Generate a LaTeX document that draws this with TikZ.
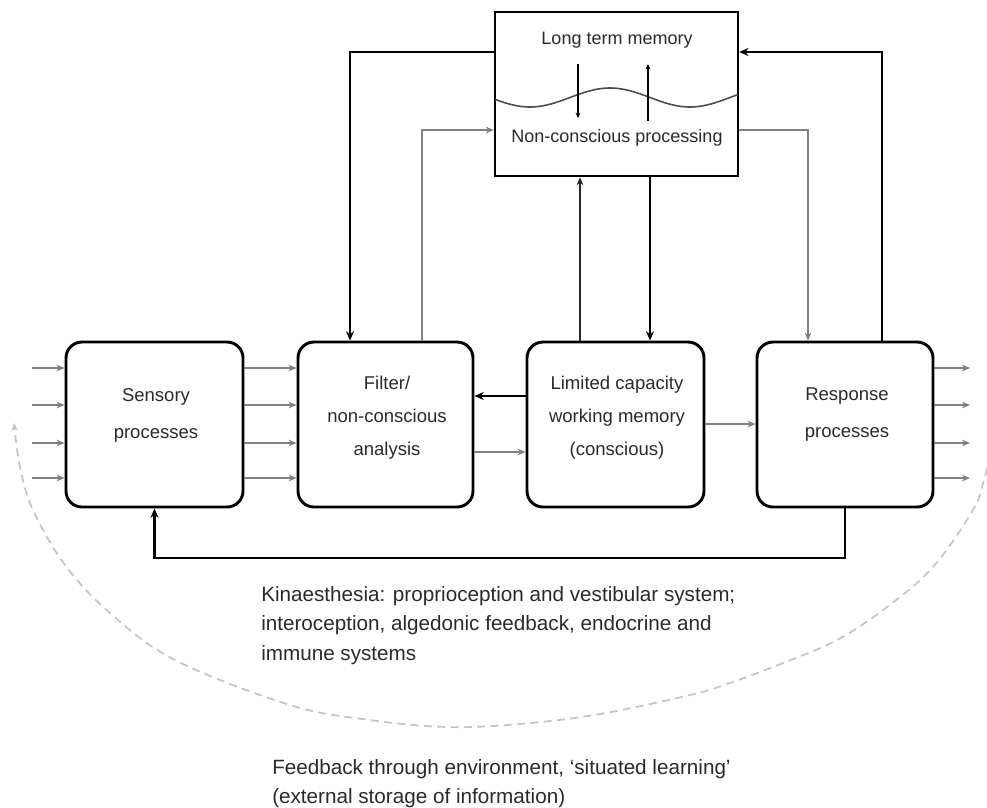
\documentclass[tikz,border=0pt]{standalone}
\usepackage{fontspec}
\setmainfont{Liberation Sans}
\usetikzlibrary{arrows.meta}
\definecolor{txt}{HTML}{2A2A2A}
\definecolor{gline}{HTML}{808080}
\definecolor{dline}{HTML}{C4C4C4}
\begin{document}
\begin{tikzpicture}[x=0.75pt,y=-0.75pt,
  box/.style={draw, line width=2.2pt, rounded corners=12pt, minimum height=123.75pt, inner sep=0pt},
  ltmbox/.style={draw, line width=1.8pt, minimum width=182.25pt, minimum height=123pt, inner sep=0pt},
  lab/.style={text=txt, align=center, inner sep=0pt},
  lab2/.style={lab, font=\fontsize{13.9pt}{27.75pt}\selectfont},
  lab3/.style={lab, font=\fontsize{13.9pt}{24.75pt}\selectfont},
  ltmlab/.style={text=txt, inner sep=0pt, anchor=base, font=\fontsize{13.5pt}{16pt}\selectfont},
  para/.style={text=txt, inner sep=0pt, anchor=base west, font=\fontsize{15.5pt}{20pt}\selectfont},
  bk/.style={draw=black, line width=2.2pt, -{Stealth[length=7pt,width=6pt]}},
  thinbk/.style={draw=black!85, line width=1.3pt, -{Stealth[length=6pt,width=5pt]}},
  gr/.style={draw=gline, line width=1.5pt, -{Stealth[length=6pt,width=5pt]}},
  tick/.style={draw=black, line width=1.2pt, -{Stealth[length=4pt,width=3.5pt]}},
  wave/.style={draw=black!70, line width=1.2pt},
  envfb/.style={draw=dline, line width=1.3pt, dash pattern=on 6pt off 4pt, -{Stealth[length=6pt,width=5pt]}}
]
\useasboundingbox (0,0) rectangle (987,807);

% boxes
\node[box, minimum width=132.75pt] (sens) at (154.5,424.5) {};
\node[box, minimum width=131.25pt] (filt) at (385.5,424.5) {};
\node[box, minimum width=132.75pt] (lim) at (615.5,424.5) {};
\node[box, minimum width=132pt] (resp) at (845,424.5) {};
\node[ltmbox] (ltm) at (616.5,94) {};

% box labels
\node[lab2] (sensl) at (156,415) {Sensory\\processes};
\node[lab3] (filtl) at (387,418) {Filter/\\non-conscious\\analysis};
\node[lab3] (liml) at (617,418) {Limited capacity\\working memory\\(conscious)};
\node[lab2] (respl) at (847,415) {Response\\processes};

% long term memory box contents
\node[ltmlab] (ltmt) at (617,44) {Long term memory};
\node[ltmlab] (ncp) at (617,142) {Non-conscious processing};
\draw[wave] plot[domain=495:738, samples=80] (\x, {97.5+9.5*cos(2.25*(\x-530))});
\coordinate (tk1a) at (578,64);
\coordinate (tk1b) at (578,118);
\coordinate (tk2a) at (648,121);
\coordinate (tk2b) at (648,64);
\draw[tick] (tk1a) -- (tk1b);
\draw[tick] (tk2a) -- (tk2b);

% helper levels
\coordinate (yT) at (0,52);
\coordinate (yG) at (0,130);
\coordinate (x350) at (350,0);
\coordinate (x422) at (422,0);
\coordinate (x580) at (580,0);
\coordinate (x650) at (650,0);
\coordinate (x808) at (808,0);
\coordinate (x882) at (882,0);
\coordinate (y396) at (0,396);
\coordinate (y452) at (0,452);
\coordinate (y424) at (0,424);
\coordinate (yB) at (0,558);

% connectors to/from long term memory
\draw[bk] (ltm.west |- yT) -| (filt.north -| x350);
\draw[gr] (filt.north -| x422) |- (ltm.west |- yG);
\draw[thinbk] (lim.north -| x580) -- (ltm.south -| x580);
\draw[bk] (ltm.south -| x650) -- (lim.north -| x650);
\draw[gr] (ltm.east |- yG) -| (resp.north -| x808);
\draw[bk] (resp.north -| x882) |- (ltm.east |- yT);

% connectors between boxes
\draw[bk] (lim.west |- y396) -- (filt.east |- y396);
\draw[gr] (filt.east |- y452) -- (lim.west |- y452);
\draw[gr] (lim.east |- y424) -- (resp.west |- y424);
\draw[bk] (resp.south) -- (resp.south |- yB) -| (sens.south);

% inputs, sensory -> filter, outputs
\foreach \yy [count=\i] in {368,405,443,478} {
  \coordinate (in\i) at (32,\yy);
  \coordinate (out\i) at (970,\yy);
  \draw[gr] (in\i) -- (sens.west |- in\i);
  \draw[gr] (sens.east |- in\i) -- (filt.west |- in\i);
  \draw[gr] (resp.east |- out\i) -- (out\i);
}

% environment feedback arc
\draw[envfb] plot[smooth, tension=0.6] coordinates {(990,455) (984,480) (973,510) (933,567) (887,607) (837,640) (783,663) (730,683) (690,695) (600,714) (520,724) (447,727) (370,720) (290,705) (175,660) (110,613) (65,565) (33,510) (20,467) (14,423)};

% texts
\node[para] (k1) at (261,601) {Kinaesthesia: proprioception and vestibular system;};
\node[para] (k2) at (261,630) {interoception, algedonic feedback, endocrine and};
\node[para] (k3) at (261,660) {immune systems};
\node[para] (f1) at (272,774) {Feedback through environment, ‘situated learning’};
\node[para] (f2) at (272,803) {(external storage of information)};
\end{tikzpicture}
\end{document}
